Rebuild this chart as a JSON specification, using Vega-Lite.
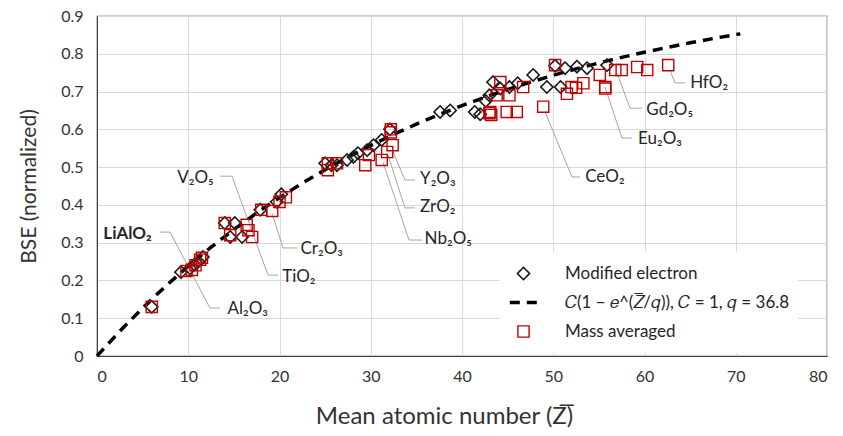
{
  "$schema": "https://vega.github.io/schema/vega-lite/v6.json",
  "width": 730,
  "height": 340,
  "autosize": {"type": "none"},
  "padding": {"left": 97, "top": 16, "right": 16, "bottom": 80},
  "background": "white",
  "config": {
    "font": "Lato",
    "view": {"stroke": "#404040", "strokeWidth": 1.2},
    "axis": {
      "grid": true,
      "gridColor": "#d9d9d9",
      "gridWidth": 1,
      "ticks": false,
      "labelOverlap": false,
      "domainColor": "#404040",
      "labelFont": "Lato",
      "labelFontSize": 16,
      "labelColor": "#333333",
      "titleFont": "Lato",
      "titleFontSize": 21,
      "titleFontWeight": "normal",
      "titleColor": "#333333"
    },
    "legend": {
      "orient": "none",
      "legendX": 403,
      "legendY": 236,
      "fillColor": "white",
      "padding": 8,
      "labelFont": "Lato",
      "labelFontSize": 17,
      "labelColor": "#262626",
      "labelLimit": 400,
      "rowPadding": 2,
      "clipHeight": 27,
      "labelOffset": 26
    }
  },
  "datasets": {
    "points": [
      {"Z": 6.0, "BSE": 0.13, "series": "Modified electron"},
      {"Z": 9.2, "BSE": 0.222, "series": "Modified electron"},
      {"Z": 10.2, "BSE": 0.232, "series": "Modified electron"},
      {"Z": 10.7, "BSE": 0.242, "series": "Modified electron"},
      {"Z": 11.1, "BSE": 0.25, "series": "Modified electron"},
      {"Z": 11.6, "BSE": 0.262, "series": "Modified electron"},
      {"Z": 14.0, "BSE": 0.352, "series": "Modified electron"},
      {"Z": 15.1, "BSE": 0.352, "series": "Modified electron"},
      {"Z": 14.6, "BSE": 0.315, "series": "Modified electron"},
      {"Z": 15.9, "BSE": 0.315, "series": "Modified electron"},
      {"Z": 17.9, "BSE": 0.387, "series": "Modified electron"},
      {"Z": 19.7, "BSE": 0.408, "series": "Modified electron"},
      {"Z": 20.2, "BSE": 0.428, "series": "Modified electron"},
      {"Z": 25.0, "BSE": 0.51, "series": "Modified electron"},
      {"Z": 25.7, "BSE": 0.505, "series": "Modified electron"},
      {"Z": 26.3, "BSE": 0.505, "series": "Modified electron"},
      {"Z": 27.4, "BSE": 0.519, "series": "Modified electron"},
      {"Z": 28.1, "BSE": 0.527, "series": "Modified electron"},
      {"Z": 28.6, "BSE": 0.537, "series": "Modified electron"},
      {"Z": 29.6, "BSE": 0.545, "series": "Modified electron"},
      {"Z": 30.3, "BSE": 0.558, "series": "Modified electron"},
      {"Z": 31.2, "BSE": 0.572, "series": "Modified electron"},
      {"Z": 32.1, "BSE": 0.6, "series": "Modified electron"},
      {"Z": 37.6, "BSE": 0.646, "series": "Modified electron"},
      {"Z": 38.7, "BSE": 0.65, "series": "Modified electron"},
      {"Z": 41.4, "BSE": 0.646, "series": "Modified electron"},
      {"Z": 42.0, "BSE": 0.64, "series": "Modified electron"},
      {"Z": 42.6, "BSE": 0.675, "series": "Modified electron"},
      {"Z": 43.0, "BSE": 0.69, "series": "Modified electron"},
      {"Z": 43.4, "BSE": 0.725, "series": "Modified electron"},
      {"Z": 44.2, "BSE": 0.708, "series": "Modified electron"},
      {"Z": 45.2, "BSE": 0.712, "series": "Modified electron"},
      {"Z": 46.1, "BSE": 0.722, "series": "Modified electron"},
      {"Z": 47.8, "BSE": 0.744, "series": "Modified electron"},
      {"Z": 49.3, "BSE": 0.712, "series": "Modified electron"},
      {"Z": 50.2, "BSE": 0.768, "series": "Modified electron"},
      {"Z": 50.8, "BSE": 0.712, "series": "Modified electron"},
      {"Z": 51.3, "BSE": 0.762, "series": "Modified electron"},
      {"Z": 52.6, "BSE": 0.766, "series": "Modified electron"},
      {"Z": 53.7, "BSE": 0.762, "series": "Modified electron"},
      {"Z": 55.9, "BSE": 0.77, "series": "Modified electron"},
      {"Z": 6.0, "BSE": 0.13, "series": "Mass averaged"},
      {"Z": 9.8, "BSE": 0.225, "series": "Mass averaged"},
      {"Z": 10.4, "BSE": 0.228, "series": "Mass averaged"},
      {"Z": 10.8, "BSE": 0.24, "series": "Mass averaged"},
      {"Z": 11.3, "BSE": 0.255, "series": "Mass averaged"},
      {"Z": 11.5, "BSE": 0.26, "series": "Mass averaged"},
      {"Z": 14.0, "BSE": 0.352, "series": "Mass averaged"},
      {"Z": 14.6, "BSE": 0.32, "series": "Mass averaged"},
      {"Z": 16.4, "BSE": 0.347, "series": "Mass averaged"},
      {"Z": 16.6, "BSE": 0.333, "series": "Mass averaged"},
      {"Z": 17.0, "BSE": 0.315, "series": "Mass averaged"},
      {"Z": 18.0, "BSE": 0.387, "series": "Mass averaged"},
      {"Z": 19.2, "BSE": 0.384, "series": "Mass averaged"},
      {"Z": 20.0, "BSE": 0.408, "series": "Mass averaged"},
      {"Z": 20.7, "BSE": 0.42, "series": "Mass averaged"},
      {"Z": 25.3, "BSE": 0.51, "series": "Mass averaged"},
      {"Z": 25.3, "BSE": 0.492, "series": "Mass averaged"},
      {"Z": 26.3, "BSE": 0.51, "series": "Mass averaged"},
      {"Z": 29.4, "BSE": 0.505, "series": "Mass averaged"},
      {"Z": 29.8, "BSE": 0.532, "series": "Mass averaged"},
      {"Z": 31.2, "BSE": 0.519, "series": "Mass averaged"},
      {"Z": 31.8, "BSE": 0.54, "series": "Mass averaged"},
      {"Z": 32.4, "BSE": 0.558, "series": "Mass averaged"},
      {"Z": 32.2, "BSE": 0.6, "series": "Mass averaged"},
      {"Z": 32.2, "BSE": 0.592, "series": "Mass averaged"},
      {"Z": 43.0, "BSE": 0.643, "series": "Mass averaged"},
      {"Z": 43.2, "BSE": 0.638, "series": "Mass averaged"},
      {"Z": 43.1, "BSE": 0.646, "series": "Mass averaged"},
      {"Z": 44.9, "BSE": 0.646, "series": "Mass averaged"},
      {"Z": 46.0, "BSE": 0.646, "series": "Mass averaged"},
      {"Z": 44.2, "BSE": 0.725, "series": "Mass averaged"},
      {"Z": 43.8, "BSE": 0.69, "series": "Mass averaged"},
      {"Z": 45.2, "BSE": 0.69, "series": "Mass averaged"},
      {"Z": 46.7, "BSE": 0.712, "series": "Mass averaged"},
      {"Z": 48.9, "BSE": 0.66, "series": "Mass averaged"},
      {"Z": 50.2, "BSE": 0.77, "series": "Mass averaged"},
      {"Z": 51.5, "BSE": 0.694, "series": "Mass averaged"},
      {"Z": 52.0, "BSE": 0.712, "series": "Mass averaged"},
      {"Z": 52.5, "BSE": 0.71, "series": "Mass averaged"},
      {"Z": 53.3, "BSE": 0.722, "series": "Mass averaged"},
      {"Z": 55.1, "BSE": 0.744, "series": "Mass averaged"},
      {"Z": 55.7, "BSE": 0.712, "series": "Mass averaged"},
      {"Z": 55.7, "BSE": 0.708, "series": "Mass averaged"},
      {"Z": 56.8, "BSE": 0.757, "series": "Mass averaged"},
      {"Z": 57.5, "BSE": 0.757, "series": "Mass averaged"},
      {"Z": 59.2, "BSE": 0.765, "series": "Mass averaged"},
      {"Z": 60.3, "BSE": 0.757, "series": "Mass averaged"},
      {"Z": 62.6, "BSE": 0.77, "series": "Mass averaged"}
    ],
    "curve": [
      {"Z": 0, "BSE": 0}, {"Z": 2.5, "BSE": 0.0657}, {"Z": 5, "BSE": 0.127},
      {"Z": 7.5, "BSE": 0.1844}, {"Z": 10, "BSE": 0.238}, {"Z": 12.5, "BSE": 0.288},
      {"Z": 15, "BSE": 0.3348}, {"Z": 17.5, "BSE": 0.3785}, {"Z": 20, "BSE": 0.4193},
      {"Z": 22.5, "BSE": 0.4574}, {"Z": 25, "BSE": 0.4931}, {"Z": 27.5, "BSE": 0.5264},
      {"Z": 30, "BSE": 0.5575}, {"Z": 32.5, "BSE": 0.5865}, {"Z": 35, "BSE": 0.6137},
      {"Z": 37.5, "BSE": 0.6391}, {"Z": 40, "BSE": 0.6628}, {"Z": 42.5, "BSE": 0.6849},
      {"Z": 45, "BSE": 0.7056}, {"Z": 47.5, "BSE": 0.7249}, {"Z": 50, "BSE": 0.743},
      {"Z": 52.5, "BSE": 0.7599}, {"Z": 55, "BSE": 0.7757}, {"Z": 57.5, "BSE": 0.7904},
      {"Z": 60, "BSE": 0.8042}, {"Z": 62.5, "BSE": 0.817}, {"Z": 65, "BSE": 0.829},
      {"Z": 67.5, "BSE": 0.8403}, {"Z": 70, "BSE": 0.8508}, {"Z": 70.5, "BSE": 0.8527}
    ],
    "leaders": [
      {"leader": "V2O5-TiO2", "i": 0, "Z": 13.48, "BSE": 0.476},
      {"leader": "V2O5-TiO2", "i": 1, "Z": 14.79, "BSE": 0.476},
      {"leader": "V2O5-TiO2", "i": 2, "Z": 18.74, "BSE": 0.214},
      {"leader": "V2O5-TiO2", "i": 3, "Z": 19.84, "BSE": 0.214},
      {"leader": "LiAlO2-Al2O3", "i": 0, "Z": 6.9, "BSE": 0.328},
      {"leader": "LiAlO2-Al2O3", "i": 1, "Z": 8.0, "BSE": 0.328},
      {"leader": "LiAlO2-Al2O3", "i": 2, "Z": 12.38, "BSE": 0.127},
      {"leader": "LiAlO2-Al2O3", "i": 3, "Z": 13.48, "BSE": 0.127},
      {"leader": "Cr2O3", "i": 0, "Z": 19.18, "BSE": 0.378},
      {"leader": "Cr2O3", "i": 1, "Z": 20.38, "BSE": 0.286},
      {"leader": "Cr2O3", "i": 2, "Z": 21.92, "BSE": 0.286},
      {"leader": "Y2O3", "i": 0, "Z": 32.44, "BSE": 0.54},
      {"leader": "Y2O3", "i": 1, "Z": 33.75, "BSE": 0.466},
      {"leader": "Y2O3", "i": 2, "Z": 34.85, "BSE": 0.466},
      {"leader": "ZrO2", "i": 0, "Z": 31.89, "BSE": 0.532},
      {"leader": "ZrO2", "i": 1, "Z": 33.75, "BSE": 0.392},
      {"leader": "ZrO2", "i": 2, "Z": 34.85, "BSE": 0.392},
      {"leader": "Nb2O5", "i": 0, "Z": 31.34, "BSE": 0.513},
      {"leader": "Nb2O5", "i": 1, "Z": 34.19, "BSE": 0.307},
      {"leader": "Nb2O5", "i": 2, "Z": 35.62, "BSE": 0.307},
      {"leader": "CeO2", "i": 0, "Z": 49.1, "BSE": 0.646},
      {"leader": "CeO2", "i": 1, "Z": 52.05, "BSE": 0.474},
      {"leader": "CeO2", "i": 2, "Z": 52.93, "BSE": 0.474},
      {"leader": "Eu2O3", "i": 0, "Z": 55.67, "BSE": 0.712},
      {"leader": "Eu2O3", "i": 1, "Z": 57.53, "BSE": 0.577},
      {"leader": "Eu2O3", "i": 2, "Z": 58.63, "BSE": 0.577},
      {"leader": "Gd2O5", "i": 0, "Z": 56.99, "BSE": 0.749},
      {"leader": "Gd2O5", "i": 1, "Z": 58.41, "BSE": 0.656},
      {"leader": "Gd2O5", "i": 2, "Z": 59.73, "BSE": 0.656},
      {"leader": "HfO2", "i": 0, "Z": 62.79, "BSE": 0.757},
      {"leader": "HfO2", "i": 1, "Z": 63.34, "BSE": 0.723},
      {"leader": "HfO2", "i": 2, "Z": 64.44, "BSE": 0.723}
    ],
    "labelsLeft": [
      {"label": "TiO₂", "Z": 20.3, "BSE": 0.21},
      {"label": "Al₂O₃", "Z": 14.3, "BSE": 0.125},
      {"label": "Cr₂O₃", "Z": 22.3, "BSE": 0.283},
      {"label": "Y₂O₃", "Z": 35.4, "BSE": 0.468},
      {"label": "ZrO₂", "Z": 35.4, "BSE": 0.394},
      {"label": "Nb₂O₅", "Z": 35.9, "BSE": 0.309},
      {"label": "CeO₂", "Z": 53.5, "BSE": 0.474},
      {"label": "Eu₂O₃", "Z": 59.3, "BSE": 0.574},
      {"label": "Gd₂O₅", "Z": 60.2, "BSE": 0.652},
      {"label": "HfO₂", "Z": 65.0, "BSE": 0.722}
    ],
    "labelsRight": [
      {"label": "V₂O₅", "Z": 12.8, "BSE": 0.47}
    ],
    "labelsBold": [
      {"label": "LiAlO₂", "Z": 6.0, "BSE": 0.322}
    ]
  },
  "encoding": {
    "x": {"field": "Z", "type": "quantitative", "scale": {"domain": [0, 80], "nice": false}, "axis": {"values": [0, 10, 20, 30, 40, 50, 60, 70, 80], "title": "Mean atomic number (Z̅)", "titleFontSize": 24, "titlePadding": 20, "titleX": 347, "titleAlign": "center", "labelPadding": 12}},
    "y": {"field": "BSE", "type": "quantitative", "scale": {"domain": [0, 0.9], "nice": false}, "axis": {"values": [0, 0.1, 0.2, 0.3, 0.4, 0.5, 0.6, 0.7, 0.8, 0.9], "format": "~g", "title": "BSE (normalized)", "titlePadding": 21, "labelPadding": 14}}
  },
  "layer": [
    {
      "data": {"name": "leaders"},
      "mark": {"type": "line", "color": "#a6a6a6", "strokeWidth": 1},
      "encoding": {
        "detail": {"field": "leader"},
        "order": {"field": "i", "type": "quantitative"}
      }
    },
    {
      "data": {"name": "curve"},
      "mark": {"type": "line", "color": "black", "strokeWidth": 3.5, "strokeDash": [10, 7]},
      "encoding": {}
    },
    {
      "data": {"name": "points"},
      "mark": {"type": "point", "filled": false, "opacity": 1},
      "encoding": {
        "shape": {"field": "series", "type": "nominal", "scale": {"domain": ["Modified electron", "𝐶(1 − 𝑒^(𝑍̅/𝑞)), 𝐶 = 1, 𝑞 = 36.8", "Mass averaged"], "range": ["diamond", "stroke", "square"]}, "legend": {"title": null}},
        "color": {"field": "series", "type": "nominal", "scale": {"domain": ["Modified electron", "𝐶(1 − 𝑒^(𝑍̅/𝑞)), 𝐶 = 1, 𝑞 = 36.8", "Mass averaged"], "range": ["#1a1a1a", "#000000", "#C00000"]}, "legend": {"title": null}},
        "size": {"field": "series", "type": "nominal", "scale": {"type": "ordinal", "domain": ["Modified electron", "𝐶(1 − 𝑒^(𝑍̅/𝑞)), 𝐶 = 1, 𝑞 = 36.8", "Mass averaged"], "range": [150, 750, 125]}, "legend": {"title": null}},
        "strokeWidth": {"field": "series", "type": "nominal", "scale": {"type": "ordinal", "domain": ["Modified electron", "𝐶(1 − 𝑒^(𝑍̅/𝑞)), 𝐶 = 1, 𝑞 = 36.8", "Mass averaged"], "range": [1.6, 3.5, 1.4]}, "legend": {"title": null}},
        "strokeDash": {"field": "series", "type": "nominal", "scale": {"domain": ["Modified electron", "𝐶(1 − 𝑒^(𝑍̅/𝑞)), 𝐶 = 1, 𝑞 = 36.8", "Mass averaged"], "range": [[1, 0], [10, 7], [1, 0]]}, "legend": {"title": null}}
      }
    },
    {
      "data": {"name": "labelsLeft"},
      "mark": {"type": "text", "align": "left", "baseline": "middle", "fontSize": 17, "color": "#262626", "font": "Lato"},
      "encoding": {"text": {"field": "label"}}
    },
    {
      "data": {"name": "labelsRight"},
      "mark": {"type": "text", "align": "right", "baseline": "middle", "fontSize": 17, "color": "#262626", "font": "Lato"},
      "encoding": {"text": {"field": "label"}}
    },
    {
      "data": {"name": "labelsBold"},
      "mark": {"type": "text", "align": "right", "baseline": "middle", "fontSize": 17, "fontWeight": "bold", "color": "#262626", "font": "Lato"},
      "encoding": {"text": {"field": "label"}}
    }
  ]
}
